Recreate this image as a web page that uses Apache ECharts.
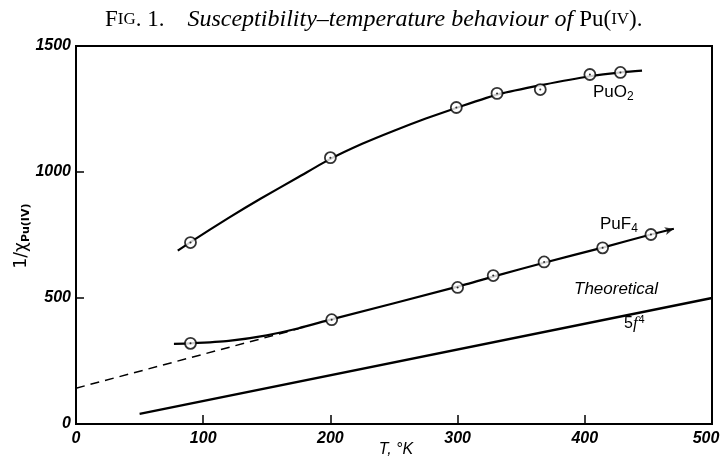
<!DOCTYPE html>
<html><head><meta charset="utf-8">
<script src="https://cdn.jsdelivr.net/npm/echarts@6/dist/echarts.min.js"></script>
<style>html,body{margin:0;padding:0;background:#fff}#c{width:723px;height:459px}</style>
</head><body><div id="c"></div>
<script>
// Measured points (T in K, 1/chi)
const puo2Points = [[90,720],[200,1057],[299,1256],[331,1312],[365,1327],[404,1387],[428,1395]];
const puf4Points = [[90,320],[201,414],[300,542],[328,589],[368,643],[414,699],[452,752]];
// Drawn curves
const puo2Curve = [[80,688],[90,722],[120,818],[145,894],[175,980],[200,1052],[225,1112],[250,1164],[275,1212],[300,1256],[333,1310],[367,1346],[404,1380],[430,1396],[445,1402]];
const puf4Curve = [[77,318],[90,320],[120,330],[150,352],[175,380],[200,414],[300,545],[330,588],[368,640],[414,700],[452,752],[470,775]];
const puf4Arrow = [[470,775]];
const extrapolated = [[0,142],[175,378]];
const theoretical = [[50,40],[500,500]];
const xTicks = [0,100,200,300,400,500];
const yTicks = [0,500,1000,1500];
const xName = 'T, °K';

const chart = echarts.init(document.getElementById('c'));
const tickFont = {fontFamily:'Liberation Sans', fontStyle:'italic', fontWeight:'bold', fontSize:16, color:'#000'};
chart.setOption({
  animation:false,
  backgroundColor:'#fff',
  title:{
    text:'{n|F}{s|IG}{n|. 1.    }{i|Susceptibility–temperature behaviour of }{n|Pu(}{s|IV}{n|).}',
    left:100, top:3,
    textStyle:{fontWeight:'normal', rich:{
      n:{fontFamily:'Liberation Serif', fontWeight:'normal', fontSize:23, color:'#000'},
      s:{fontFamily:'Liberation Serif', fontWeight:'normal', fontSize:17, color:'#000'},
      i:{fontFamily:'Liberation Serif', fontWeight:'normal', fontStyle:'italic', fontSize:24, color:'#000'}
    }}
  },
  grid:{left:76, right:11, top:46, bottom:35, outerBoundsMode:'none', containLabel:false, show:true, borderColor:'#000', borderWidth:2},
  xAxis:{type:'value', min:0, max:500, interval:100,
    axisLine:{show:true, onZero:false, lineStyle:{color:'#000', width:2}},
    axisTick:{show:true, inside:true, length:9, lineStyle:{color:'#000', width:1.5}},
    axisLabel:Object.assign({margin:7, formatter:v=>!xTicks.includes(v)?'':(v===500?'{m|'+v+'}':String(v)),
      rich:{m:{fontFamily:'Liberation Sans', fontStyle:'italic', fontWeight:'bold', fontSize:16, color:'#000', padding:[0,12,0,0]}}}, tickFont),
    splitLine:{show:false}
  },
  yAxis:{type:'value', min:0, max:1500, interval:500,
    axisLine:{show:true, onZero:false, lineStyle:{color:'#000', width:2}},
    axisTick:{show:true, inside:true, length:8, lineStyle:{color:'#000', width:1.5}},
    axisLabel:Object.assign({margin:5, formatter:v=>yTicks.includes(v)?String(v):''}, tickFont),
    splitLine:{show:false}
  },
  series:[
    {type:'line', data:puo2Curve, smooth:0.2, showSymbol:false, lineStyle:{color:'#000', width:2.2}, z:2},
    {type:'line', data:puf4Curve, smooth:0.2, showSymbol:false, lineStyle:{color:'#000', width:2.2}, z:2},
    {type:'line', data:extrapolated, showSymbol:false, lineStyle:{color:'#000', width:1.5, type:[9,6]}, z:2},
    {type:'line', data:theoretical, showSymbol:false, lineStyle:{color:'#000', width:2.4}, z:2},
    {type:'scatter', data:puf4Arrow, symbol:'arrow', symbolSize:[6,9], symbolRotate:-75, itemStyle:{color:'#000'}, z:3},
    {type:'scatter', data:puo2Points, symbol:'circle', symbolSize:11, itemStyle:{color:'#fff', borderColor:'#000', borderWidth:1.8}, z:4},
    {type:'scatter', data:puf4Points, symbol:'circle', symbolSize:11, itemStyle:{color:'#fff', borderColor:'#000', borderWidth:1.8}, z:4},
    {type:'scatter', data:puo2Points, symbol:'circle', symbolSize:2, itemStyle:{color:'#000'}, z:5},
    {type:'scatter', data:puf4Points, symbol:'circle', symbolSize:2, itemStyle:{color:'#000'}, z:5}
  ],
  graphic:[
    {type:'text', x:396, y:450, style:{text:xName, font:'italic 16px "Liberation Sans"', fill:'#000', align:'center', verticalAlign:'middle'}},
    {type:'text', x:22, y:236, rotation:Math.PI/2, style:{text:'{a|1/χ}{b|Pu(IV)}', align:'center', verticalAlign:'middle', rich:{
      a:{fontFamily:'DejaVu Sans', fontSize:17, fill:'#000'},
      b:{fontFamily:'DejaVu Sans', fontWeight:'bold', fontSize:11, fill:'#000', padding:[8,0,0,0]}}}},
    {type:'text', left:593, top:84, style:{text:'{a|PuO}{b|2}', rich:{
      a:{fontFamily:'Liberation Sans', fontSize:17, fill:'#000'},
      b:{fontFamily:'Liberation Sans', fontSize:12, fill:'#000', padding:[8,0,0,0]}}}},
    {type:'text', left:600, top:216, style:{text:'{a|PuF}{b|4}', rich:{
      a:{fontFamily:'Liberation Sans', fontSize:17, fill:'#000'},
      b:{fontFamily:'Liberation Sans', fontSize:12, fill:'#000', padding:[8,0,0,0]}}}},
    {type:'text', left:574, top:281, style:{text:'Theoretical', font:'italic 17px "Liberation Sans"', fill:'#000'}},
    {type:'text', left:624, top:314, style:{text:'{a|5}{c|f}{b|4}', rich:{
      a:{fontFamily:'Liberation Sans', fontSize:16, fill:'#000'},
      c:{fontFamily:'Liberation Serif', fontStyle:'italic', fontSize:17, fill:'#000'},
      b:{fontFamily:'Liberation Sans', fontSize:11, fill:'#000', padding:[0,0,8,1]}}}}
  ]
});
</script></body></html>
